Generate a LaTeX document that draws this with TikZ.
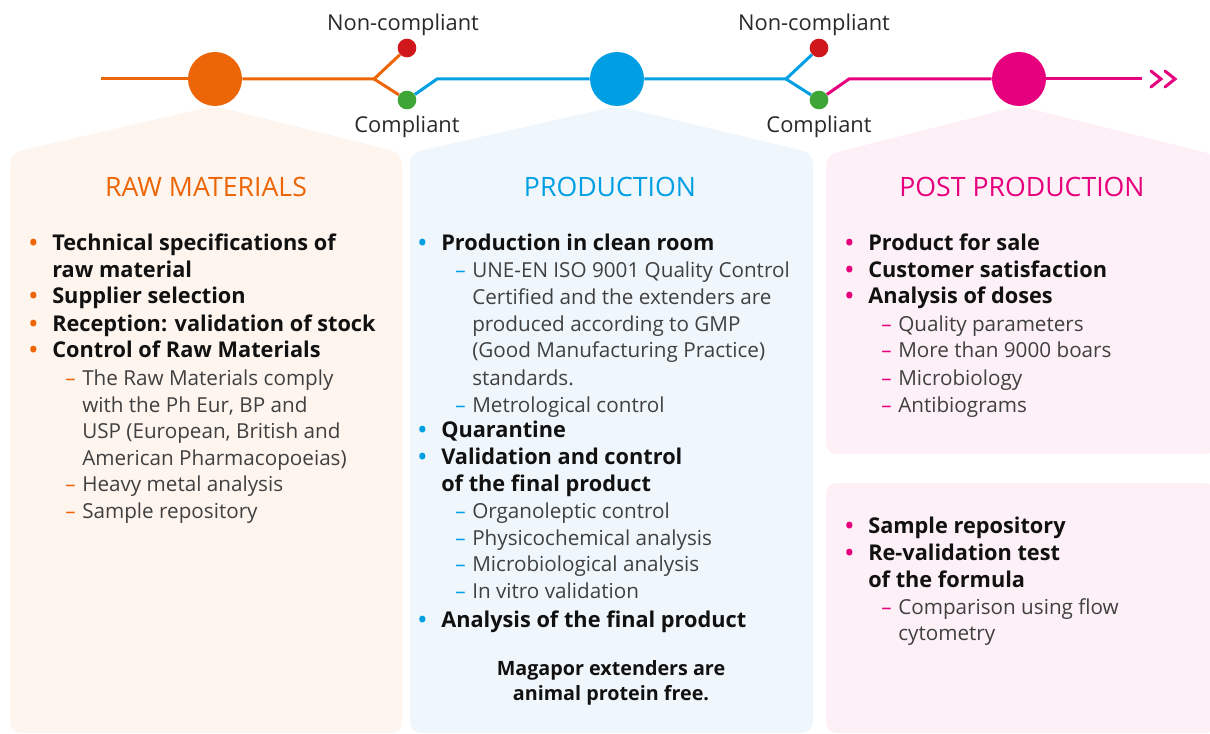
\documentclass[tikz,border=0pt]{standalone}
\usepackage{fontspec}
\setmainfont{Open Sans}
\usetikzlibrary{positioning}
\definecolor{rawc}{HTML}{EC6608}
\definecolor{prodc}{HTML}{009FE3}
\definecolor{postc}{HTML}{E6007E}
\definecolor{nokc}{HTML}{D0171B}
\definecolor{okc}{HTML}{3EA636}
\definecolor{rawbg}{HTML}{FEF5EF}
\definecolor{prodbg}{HTML}{F0F7FC}
\definecolor{postbg}{HTML}{FDF0F6}
\definecolor{ink}{HTML}{111111}
\definecolor{subink}{HTML}{404040}
\newcommand{\dotmark}[1]{\llap{\textcolor{#1}{\textbullet}\hspace{11pt}}}
\newcommand{\dashmark}[1]{\llap{\textcolor{#1}{–}\hspace{5pt}}}
\begin{document}
\begin{tikzpicture}[x=0.75pt, y=-0.75pt]
    \tikzstyle{panel} = [rounded corners=8pt]
    \tikzstyle{bigdot} = [circle, minimum size=40.5pt, inner sep=0pt]
    \tikzstyle{smalldot} = [circle, minimum size=14pt, inner sep=0pt]
    \tikzstyle{track} = [line width=2.25pt]
    \tikzstyle{lbl} = [font=\fontsize{16.4}{19}\selectfont, text=ink!90]
    \tikzstyle{head} = [anchor=base, inner sep=0pt, font=\fontsize{20}{24}\selectfont]
    \tikzstyle{itm} = [anchor=base west, inner sep=0pt, text=ink, font=\fontsize{16.3}{20}\selectfont\bfseries]
    \tikzstyle{sub} = [anchor=base west, inner sep=0pt, text=subink, font=\fontsize{15.5}{20}\selectfont]
    \useasboundingbox (0,0) rectangle (1210,734);
    \clip (0,0) rectangle (1210,734);

    % panels
    \fill[panel, rawbg] (10,400) -- (10,153) -- (214,106) -- (402,153) -- (402,733) -- (10,733) -- cycle;
    \fill[panel, prodbg] (410,400) -- (410,153) -- (617,106) -- (813,153) -- (813,733) -- (410,733) -- cycle;
    \fill[panel, postbg] (826,300) -- (826,155) -- (1019,106) -- (1216,155) -- (1216,454) -- (826,454) -- cycle;
    \fill[panel, postbg] (826,483) rectangle (1216,733);

    % timeline
    \node[bigdot, fill=rawc] (raw) at (215,79) {};
    \node[bigdot, fill=prodc] (prod) at (617,79) {};
    \node[bigdot, fill=postc] (post) at (1019,79) {};
    \node[smalldot, fill=nokc] (nok1) at (407,48) {};
    \node[smalldot, fill=okc] (ok1) at (407,100) {};
    \node[smalldot, fill=nokc] (nok2) at (819,48) {};
    \node[smalldot, fill=okc] (ok2) at (819,100) {};
    \coordinate (start) at (101,79);
    \coordinate (fork1) at (374,79);
    \coordinate (kink1) at (437,79);
    \coordinate (fork2) at (786,79);
    \coordinate (kink2) at (849,79);
    \coordinate (stop) at (1142,79);

    \draw[track, rawc] (start) -- (raw);
    \draw[track, rawc] (raw) -- (fork1) -- (nok1);
    \draw[track, rawc] (fork1) -- (ok1);
    \draw[track, prodc] (ok1) -- (kink1) -- (prod);
    \draw[track, prodc] (prod) -- (fork2) -- (nok2);
    \draw[track, prodc] (fork2) -- (ok2);
    \draw[track, postc] (ok2) -- (kink2) -- (post);
    \draw[track, postc] (post) -- (stop);
    \draw[track, postc, line cap=round] (1151,71) -- (1161,79) -- (1151,87);
    \draw[track, postc, line cap=round] (1165,71) -- (1175,79) -- (1165,87);

    \node[lbl] (nc1) at (403,25) {Non-compliant};
    \node[lbl] (cp1) at (407,127) {Compliant};
    \node[lbl] (nc2) at (814,25) {Non-compliant};
    \node[lbl] (cp2) at (819,127) {Compliant};

    % raw materials
    \node[head, text=rawc] (rawhead) at (206,197) {RAW MATERIALS};
    \node[itm] (raw1) at (52,251) {\dotmark{rawc}Technical specifications of};
    \node[itm] (raw2) at (52,277) {raw material};
    \node[itm] (raw3) at (52,304) {\dotmark{rawc}Supplier selection};
    \node[itm] (raw4) at (52,331) {\dotmark{rawc}Reception: validation of stock};
    \node[itm] (raw5) at (52,358) {\dotmark{rawc}Control of Raw Materials};
    \node[sub] (raw6) at (82,385) {\dashmark{rawc}The Raw Materials comply};
    \node[sub] (raw7) at (82,412) {with the Ph Eur, BP and};
    \node[sub] (raw8) at (82,438) {USP (European, British and};
    \node[sub] (raw9) at (82,465) {American Pharmacopoeias)};
    \node[sub] (raw10) at (82,491) {\dashmark{rawc}Heavy metal analysis};
    \node[sub] (raw11) at (82,518) {\dashmark{rawc}Sample repository};

    % production
    \node[head, text=prodc] (prodhead) at (610,197) {PRODUCTION};
    \node[itm] (pro1) at (441,251) {\dotmark{prodc}Production in clean room};
    \node[sub] (pro2) at (472,278) {\dashmark{prodc}UNE-EN ISO 9001 Quality Control};
    \node[sub] (pro3) at (472,305) {Certified and the extenders are};
    \node[sub] (pro4) at (472,331) {produced according to GMP};
    \node[sub] (pro5) at (472,358) {(Good Manufacturing Practice)};
    \node[sub] (pro6) at (472,385) {standards.};
    \node[sub] (pro7) at (472,412) {\dashmark{prodc}Metrological control};
    \node[itm] (pro8) at (441,437) {\dotmark{prodc}Quarantine};
    \node[itm] (pro9) at (441,464) {\dotmark{prodc}Validation and control};
    \node[itm] (pro10) at (441,491) {of the final product};
    \node[sub] (pro11) at (472,518) {\dashmark{prodc}Organoleptic control};
    \node[sub] (pro12) at (472,545) {\dashmark{prodc}Physicochemical analysis};
    \node[sub] (pro13) at (472,571) {\dashmark{prodc}Microbiological analysis};
    \node[sub] (pro14) at (472,598) {\dashmark{prodc}In vitro validation};
    \node[itm] (pro15) at (441,627) {\dotmark{prodc}Analysis of the final product};
    \node[itm, anchor=base, font=\fontsize{14.8}{19}\selectfont\bfseries] (note1) at (611,675) {Magapor extenders are};
    \node[itm, anchor=base, font=\fontsize{14.8}{19}\selectfont\bfseries] (note2) at (611,700) {animal protein free.};

    % post production
    \node[head, text=postc] (posthead) at (1022,197) {POST PRODUCTION};
    \node[itm] (post1) at (868,251) {\dotmark{postc}Product for sale};
    \node[itm] (post2) at (868,277) {\dotmark{postc}Customer satisfaction};
    \node[itm] (post3) at (868,304) {\dotmark{postc}Analysis of doses};
    \node[sub] (post4) at (898,331) {\dashmark{postc}Quality parameters};
    \node[sub] (post5) at (898,358) {\dashmark{postc}More than 9000 boars};
    \node[sub] (post6) at (898,385) {\dashmark{postc}Microbiology};
    \node[sub] (post7) at (898,412) {\dashmark{postc}Antibiograms};
    \node[itm] (post8) at (868,533) {\dotmark{postc}Sample repository};
    \node[itm] (post9) at (868,560) {\dotmark{postc}Re-validation test};
    \node[itm] (post10) at (868,587) {of the formula};
    \node[sub] (post11) at (898,614) {\dashmark{postc}Comparison using flow};
    \node[sub] (post12) at (898,640) {cytometry};
\end{tikzpicture}
\end{document}
